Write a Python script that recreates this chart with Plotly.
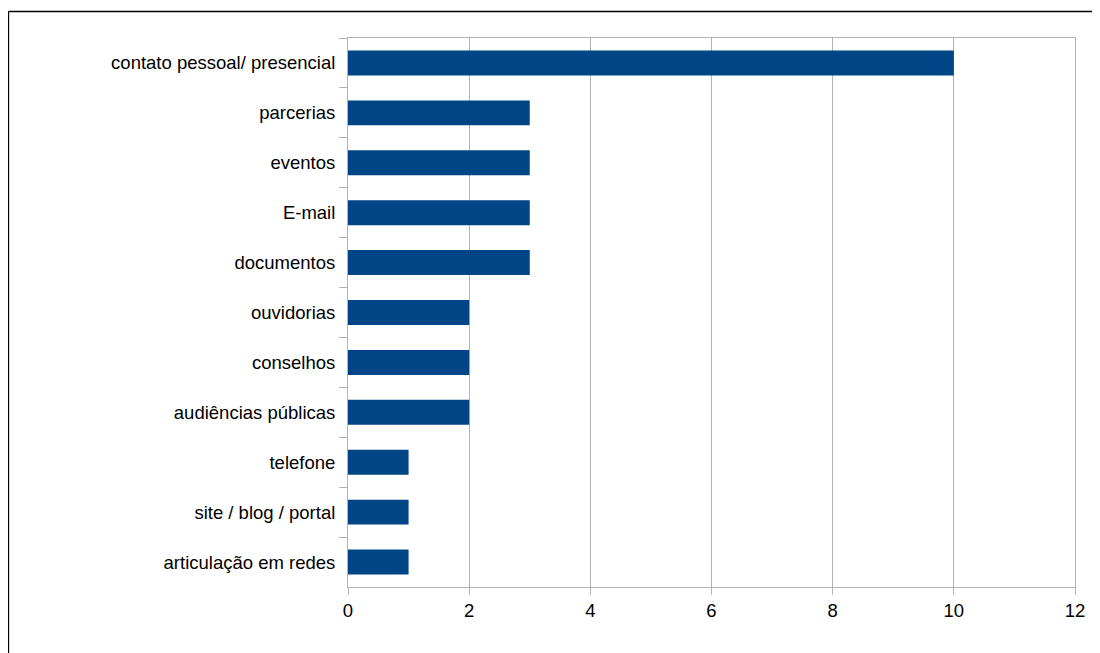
import plotly.graph_objects as go

categories = ["contato pessoal/ presencial", "parcerias", "eventos", "E-mail", "documentos",
              "ouvidorias", "conselhos", "audiências públicas", "telefone",
              "site / blog / portal", "articulação em redes"]
values = [10, 3, 3, 3, 3, 2, 2, 2, 1, 1, 1]
x_ticks = [0, 2, 4, 6, 8, 10, 12]

OFF = 8  # page body margin
W, H = 1100 - OFF, 653 - OFF
L, R, T, B = 348 - OFF, 1075 - OFF, 38 - OFF, 587 - OFF

fig = go.Figure(go.Bar(
    x=values, y=categories, orientation="h",
    marker=dict(color="#004586", line=dict(width=0)),
    width=0.5,
))

def px(xp):
    return (xp - L) / (R - L)

def py(yp):
    return (B - yp) / (B - T)

fig.update_layout(
    width=W, height=H,
    margin=dict(l=L, r=W - R, t=T, b=H - B, pad=0),
    paper_bgcolor="white", plot_bgcolor="white",
    font=dict(family="Liberation Sans, Arial, sans-serif", size=18.5, color="black"),
    showlegend=False,
    bargap=0.5,
    xaxis=dict(range=[0, 12], tickvals=x_ticks, showgrid=True, gridcolor="#b3b3b3",
               gridwidth=1, showline=True, linecolor="#b3b3b3", linewidth=1, mirror=True,
               ticks="outside", ticklen=7, tickcolor="#b3b3b3", zeroline=False,
               tickfont=dict(size=18.5)),
    yaxis=dict(autorange="reversed", showline=True, linecolor="#b3b3b3", linewidth=1,
               mirror=True, ticks="outside", ticklen=8, tickcolor="#b3b3b3",
               tickson="boundaries", showgrid=False, tickfont=dict(size=18.5),
               ticklabelstandoff=8),
    shapes=[
        dict(type="line", xref="paper", yref="paper", x0=px(0.5), x1=px(1120),
             y0=py(3.5), y1=py(3.5), line=dict(color="black", width=1.3)),
        dict(type="line", xref="paper", yref="paper", x0=px(0.5), x1=px(0.5),
             y0=py(3.5), y1=py(700), line=dict(color="black", width=1.3)),
    ],
)

fig.write_html("out.html")
